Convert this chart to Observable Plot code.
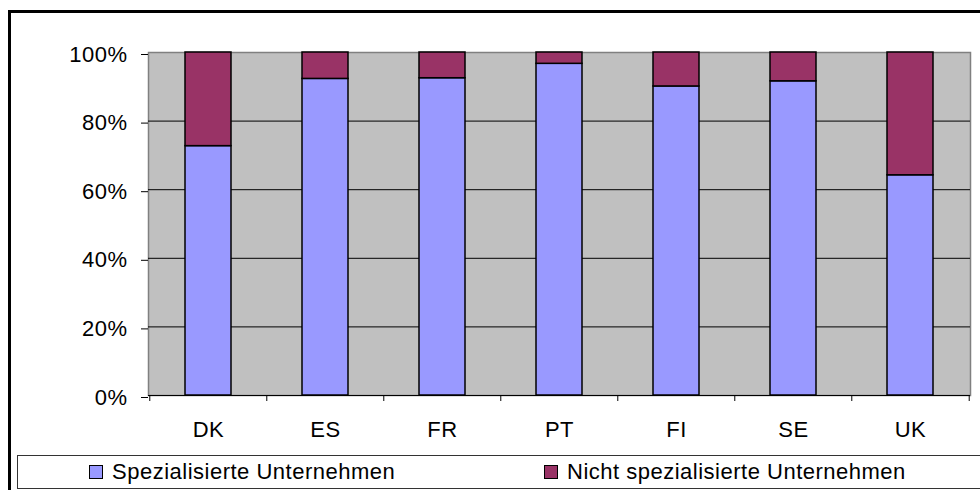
<!DOCTYPE html>
<html><head><meta charset="utf-8">
<script src="https://cdn.jsdelivr.net/npm/d3@7"></script>
<script src="https://cdn.jsdelivr.net/npm/@observablehq/plot@0.6"></script>
<style>
body{margin:0;background:#fff;font-family:"Liberation Sans",Arial,sans-serif;}
#wrap{position:relative;width:980px;height:490px;overflow:hidden;background:#fff}
#border{position:absolute;left:8px;top:10px;width:1000px;height:500px;border-left:3px solid #000;border-top:3px solid #000;box-sizing:border-box}
#chart{position:absolute;left:0;top:0}
#chart svg text{letter-spacing:0.5px}
#legend{position:absolute;left:17px;top:455px;width:1000px;height:34px;border:1px solid #333;box-sizing:border-box;background:#fff}
.item{position:absolute;top:0;height:32px;display:flex;align-items:center;font-size:22px;letter-spacing:0.5px;color:#000}
.sw{width:12px;height:12px;border:1px solid #000;margin-right:9px;flex:none}
</style>
</head><body>
<div id="wrap">
  <div id="border"></div>
  <div id="chart"></div>
  <div id="legend"></div>
</div>
<script>
const countries = ["DK","ES","FR","PT","FI","SE","UK"];
const types = ["Spezialisierte Unternehmen","Nicht spezialisierte Unternehmen"];
const specialised = [72.7, 92.3, 92.5, 96.7, 90.1, 91.6, 64.2];
const nonSpecialised = [27.3, 7.7, 7.5, 3.3, 9.9, 8.4, 35.8];
const colors = ["#9999FF","#993366"];
const yTicks = [0,20,40,60,80,100];

const data = [];
countries.forEach((c,i)=>{
  data.push({country:c, type:types[0], value:specialised[i]});
  data.push({country:c, type:types[1], value:nonSpecialised[i]});
});

const W = 980, H = 454, mL = 148, mR = 10, mT = 52, mB = 59;
const step = (W - mL - mR) / countries.length;

const chart = Plot.plot({
  width: W, height: H,
  marginLeft: mL, marginRight: mR, marginTop: mT, marginBottom: mB,
  style: {fontFamily: "Liberation Sans, Arial, sans-serif", fontSize: "22px", background: "transparent", color: "#000", overflow: "visible"},
  x: {domain: countries, paddingInner: 0.61, paddingOuter: 0.305, axis: null, label: null},
  y: {domain: [0,100], axis: null, label: null},
  color: {domain: types, range: colors},
  marks: [
    Plot.frame({fill: "#C0C0C0", stroke: "#808080", strokeWidth: 1.5}),
    Plot.ruleY(yTicks.filter(d => d > 0 && d < 100), {stroke: "#000", strokeWidth: 1}),
    Plot.barY(data, {x: "country", y: "value", fill: "type", stroke: "#000", strokeWidth: 1.5, order: types}),
    Plot.ruleY([0], {stroke: "#000", strokeWidth: 1}),
    Plot.axisY({ticks: yTicks, tickFormat: d => d + "%", tickSize: 7, tickPadding: 14, fontSize: 22, dy: 2, stroke: "#000", label: null}),
    Plot.axisX({tickSize: 0, tickPadding: 26, fontSize: 22, label: null}),
    Plot.axisX({tickSize: 6, tickFormat: () => "", dx: -step/2, stroke: "#000", label: null}),
    Plot.axisX([countries[countries.length-1]], {tickSize: 6, tickFormat: () => "", dx: step/2, stroke: "#000", label: null})
  ]
});
document.getElementById("chart").appendChild(chart);

const legend = document.getElementById("legend");
const positions = [71, 526];
types.forEach((t,i)=>{
  const it = document.createElement("div");
  it.className = "item";
  it.style.left = positions[i] + "px";
  const sw = document.createElement("div");
  sw.className = "sw";
  sw.style.background = colors[i];
  it.appendChild(sw);
  const tx = document.createElement("span");
  tx.textContent = t;
  it.appendChild(tx);
  legend.appendChild(it);
});
</script>
</body></html>
